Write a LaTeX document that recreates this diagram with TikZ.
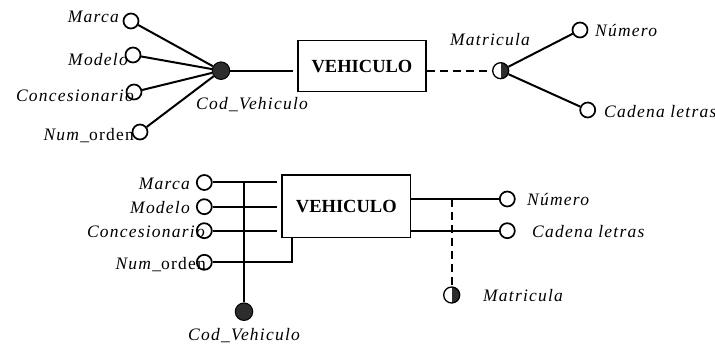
\documentclass[tikz,border=0pt]{standalone}
\usepackage{fontspec}
\setmainfont{Liberation Serif}
\newfontfamily\spacedserif[LetterSpace=7]{Liberation Serif}
\definecolor{keyfill}{RGB}{45,45,45}
\begin{document}
\begin{tikzpicture}[x=1pt,y=-1pt,
  attr/.style={circle,draw,line width=1.7pt,fill=white,minimum size=15pt,inner sep=0pt},
  keydot/.style={circle,draw=black,line width=1pt,fill=keyfill,minimum size=17.5pt,inner sep=0pt},
  halfdot/.style={circle,draw,line width=1.3pt,fill=white,minimum size=16pt,inner sep=0pt,
    path picture={\fill[keyfill] (path picture bounding box.north) rectangle (path picture bounding box.south east);}},
  entity/.style={draw,line width=1.5pt,inner sep=0pt,font=\bfseries\fontsize{18.5}{21}\selectfont},
  lab/.style={inner sep=0pt,font=\spacedserif\itshape\fontsize{17.5}{20}\selectfont},
  link/.style={line width=2pt},
  optlink/.style={line width=1.7pt,dash pattern=on 8pt off 5pt}
]
\useasboundingbox (0,0) rectangle (715,344);

% ---------- upper schema: identifier drawn as a fan ----------
\node[entity,minimum width=128pt,minimum height=51pt] (ent) at (362,66.2) {VEHICULO};

\node[attr] (marca) at (131,21) {};
\node[attr] (modelo) at (133,55) {};
\node[attr] (conc) at (134,92) {};
\node[attr] (num) at (140,132) {};
\node[keydot] (cod) at (221,70.7) {};
\coordinate (codend) at (293,70.7);

\node[lab,anchor=base east] (lmarca) at (119,22.5) {Marca};
\node[lab,anchor=base east] (lmodelo) at (128,66) {Modelo};
\node[lab,anchor=base east] (lconc) at (134,101.5) {Concesionario};
\node[lab,anchor=base east] (lnum) at (134,141) {Num\_{\upshape orden}};
\node[lab,anchor=base west] (lcod) at (196,110) {Cod\_Vehiculo};

\draw[link] (marca) -- (cod);
\draw[link] (modelo) -- (cod);
\draw[link] (conc) -- (cod);
\draw[link] (num) -- (cod);
\draw[link] (cod) -- (codend);

\node[halfdot] (mat) at (500.7,70.7) {};
\node[attr] (numero) at (580,30) {};
\node[attr] (cadena) at (587.7,110) {};
\node[lab,anchor=base west] (lmat) at (450,45.7) {Matricula};
\node[lab,anchor=base west] (lnumero) at (595,37) {Número};
\node[lab,anchor=base west] (lcadena) at (604,118) {Cadena letras};

\draw[optlink] (ent.east |- mat) -- (mat);
\draw[link] (mat) -- (numero);
\draw[link] (mat) -- (cadena);

% ---------- lower schema: identifier drawn with straight lines ----------
\node[entity,minimum width=128.7pt,minimum height=62.3pt] (bent) at (346.3,206.2) {VEHICULO};

\node[attr] (bmarca) at (204.3,182.5) {};
\node[attr] (bmodelo) at (204.3,206.7) {};
\node[attr] (bconc) at (204.3,230.7) {};
\node[attr] (bnum) at (204.3,262.3) {};
\node[keydot] (bcod) at (244,311.7) {};

\coordinate (bmarcaend) at (277,182.5);
\coordinate (bmodeloend) at (277,206.7);
\coordinate (bconcend) at (277,230.7);
\coordinate (bnumend) at (292.3,237.3);
\coordinate (bcodtop) at (244,182.5);

\node[lab,anchor=base east] (lbmarca) at (190,190) {Marca};
\node[lab,anchor=base east] (lbmodelo) at (190,214) {Modelo};
\node[lab,anchor=base east] (lbconc) at (205,237.5) {Concesionario};
\node[lab,anchor=base east] (lbnum) at (206,270) {Num\_{\upshape orden}};
\node[lab,anchor=base west] (lbcod) at (188,341) {Cod\_Vehiculo};

\draw[link] (bmarca) -- (bmarcaend);
\draw[link] (bmodelo) -- (bmodeloend);
\draw[link] (bconc) -- (bconcend);
\draw[link] (bnum) -| (bnumend);
\draw[link] (bcodtop) -- (bcod);

\node[attr] (bnumero) at (507.3,199) {};
\node[attr] (bcadena) at (507.3,230.7) {};
\node[halfdot] (bmat) at (451.7,295) {};
\node[lab,anchor=base west] (lbnumero) at (527,205.7) {Número};
\node[lab,anchor=base west] (lbcadena) at (532,238) {Cadena letras};
\node[lab,anchor=base west] (lbmat) at (483,302) {Matricula};

\draw[link] (bent.east |- bnumero) -- (bnumero);
\draw[link] (bent.east |- bcadena) -- (bcadena);
\draw[optlink] (bmat |- bnumero) -- (bmat);
\end{tikzpicture}
\end{document}
